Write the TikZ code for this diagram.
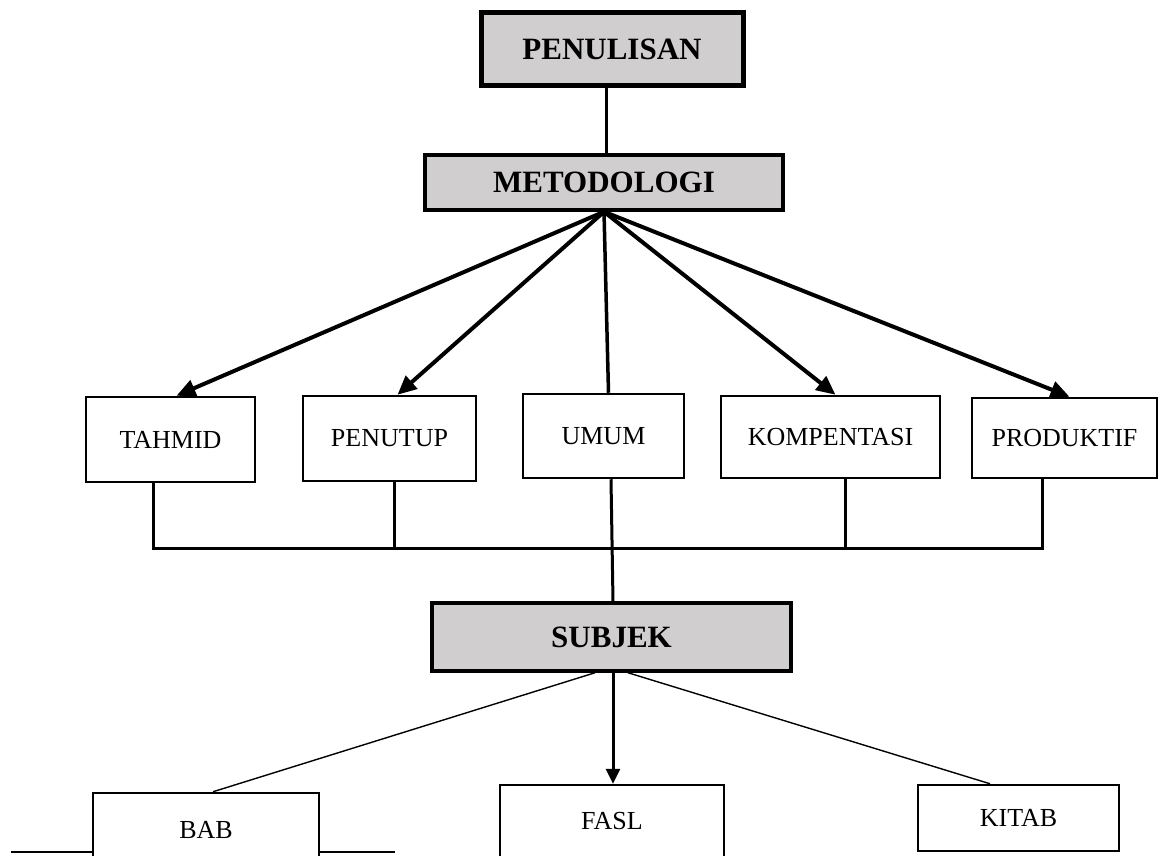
\documentclass[tikz,border=0pt]{standalone}
\usepackage{fontspec}
\setmainfont{Liberation Serif}
\usetikzlibrary{arrows.meta}
\definecolor{boxgray}{HTML}{D0CECE}

\begin{document}
\begin{tikzpicture}[x=1pt, y=-1pt]
    \tikzstyle{box}=[draw, line width=2.5pt, fill=white, font=\fontsize{26}{30}\selectfont]
    \tikzstyle{headbox}=[draw, line width=3.5pt, fill=boxgray, font=\fontsize{31}{36}\selectfont\bfseries]
    \tikzstyle{link}=[line width=3pt]
    \tikzstyle{thin}=[line width=1.4pt]
    \tikzstyle{arr}=[line width=4pt, -{Triangle[length=19pt, width=17pt]}]

    \clip (0, 0) rectangle (1160, 856);

    \draw[line width=2pt] (11, 852) -- (395, 852);

    \node[headbox, line width=5pt, minimum width=262pt, minimum height=73pt] (penulisan) at (612, 49) {PENULISAN};
    \node[headbox, minimum width=358pt, minimum height=55pt] (metodologi) at (604, 182.5) {METODOLOGI};

    \node[box, minimum width=169pt, minimum height=85pt] (tahmid) at (170.5, 439.5) {TAHMID};
    \node[box, minimum width=173pt, minimum height=85pt] (penutup) at (389.5, 438.5) {PENUTUP};
    \node[box, minimum width=161pt, minimum height=84pt] (umum) at (603.5, 436) {UMUM};
    \node[box, minimum width=219pt, minimum height=82pt] (kompentasi) at (830.5, 437) {KOMPENTASI};
    \node[box, minimum width=185pt, minimum height=80pt] (produktif) at (1064.5, 438) {PRODUKTIF};

    \node[headbox, minimum width=359pt, minimum height=68pt] (subjek) at (611.5, 637) {SUBJEK};

    \node[box, minimum width=226pt, minimum height=74pt] (bab) at (206, 830) {BAB};
    \node[box, minimum width=224pt, minimum height=72pt] (fasl) at (612, 821) {FASL};
    \node[box, minimum width=201pt, minimum height=66pt] (kitab) at (1018.5, 818) {KITAB};

    \coordinate (barL) at (153, 548);
    \coordinate (barR) at (1042, 548);

    \draw[link] ([xshift=2pt]metodologi.north |- penulisan.south) -- ([xshift=2pt]metodologi.north);

    \draw[arr] (metodologi.south) -- ([xshift=6pt]tahmid.north);
    \draw[arr] (metodologi.south) -- ([xshift=8pt]penutup.north);
    \draw[link, line width=3.5pt] (metodologi.south) -- ([xshift=5pt]umum.north);
    \draw[arr] (metodologi.south) -- ([xshift=5pt]kompentasi.north);
    \draw[arr] (metodologi.south) -- ([xshift=5pt]produktif.north);

    % stubs down to the common bar
    \draw[link] ([xshift=-17.5pt]tahmid.south) -- (barL) -- (barR) -- ([xshift=-22.5pt]produktif.south);
    \draw[link] ([xshift=4.5pt]penutup.south) -- ([xshift=4.5pt]penutup.south |- barL);
    \draw[link] ([xshift=14.5pt]kompentasi.south) -- ([xshift=14.5pt]kompentasi.south |- barL);
    \draw[link] ([xshift=7.5pt]umum.south) -- ([xshift=1.5pt]subjek.north);

    \draw[thin] ([xshift=-16.5pt]subjek.south) -- ([xshift=7pt]bab.north);
    \draw[link, -{Triangle[length=15pt, width=14pt]}] ([xshift=1.5pt]subjek.south) -- ([xshift=1pt]fasl.north);
    \draw[thin] ([xshift=16.5pt]subjek.south) -- ([xshift=-28.5pt]kitab.north);
\end{tikzpicture}
\end{document}
